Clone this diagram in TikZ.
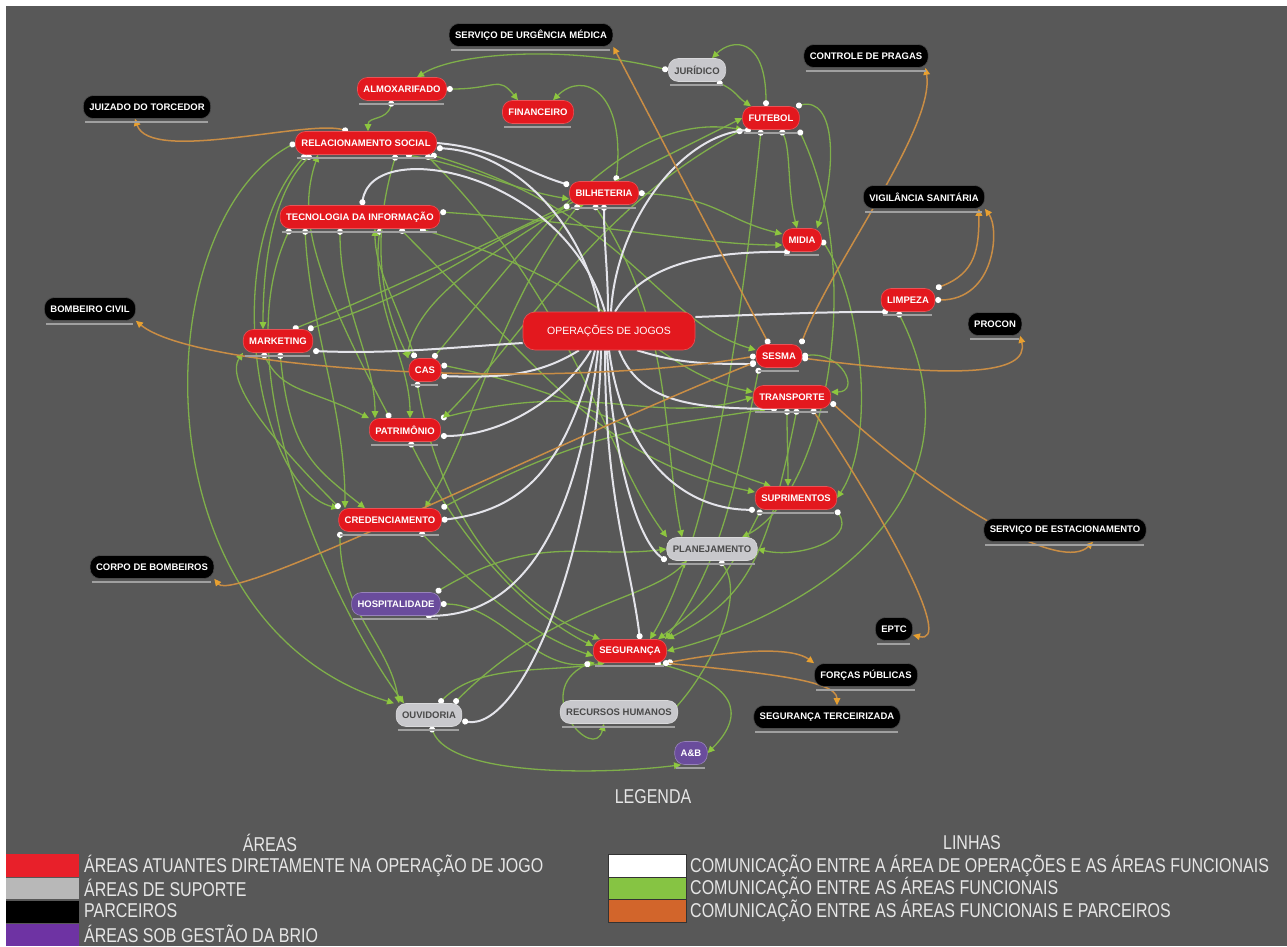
\documentclass[tikz,border=0pt]{standalone}
\usepackage{fontspec}
\setmainfont{Liberation Sans}
\newfontfamily\legfont[FakeStretch=0.8]{Liberation Sans}
\usetikzlibrary{arrows.meta,backgrounds}
\definecolor{bgray}{HTML}{585858}
\definecolor{redarea}{HTML}{E3181E}
\definecolor{suparea}{HTML}{C8C8CC}
\definecolor{suptext}{HTML}{4A4A4A}
\definecolor{brioarea}{HTML}{6A4C9C}
\definecolor{lgreen}{HTML}{7FAF4A}
\definecolor{tipgreen}{HTML}{8DC63F}
\definecolor{lorange}{HTML}{C98D45}
\definecolor{tiporange}{HTML}{E8A030}
\definecolor{lwhite}{HTML}{E4E4EA}
\definecolor{nodeshade}{HTML}{A0A0A0}
\definecolor{legred}{HTML}{E8202A}
\definecolor{leggray}{HTML}{B8B8B8}
\definecolor{legpurple}{HTML}{6E33A3}
\definecolor{leggreen}{HTML}{86C443}
\definecolor{legorange}{HTML}{D2652B}
\definecolor{legtext}{HTML}{E6E6E6}
\tikzset{
  area/.style={rounded corners=10pt,fill=redarea,draw=redarea!75!white,line width=0.6pt,text=white,
               font=\fontsize{9.5}{10}\selectfont\bfseries,minimum height=23pt,inner xsep=6pt,inner ysep=0pt},
  suporte/.style={area,fill=suparea,draw=suparea!70!white,text=suptext},
  parceiro/.style={area,fill=black,draw=black!70!white},
  brio/.style={area,fill=brioarea,draw=brioarea!70!white},
  opsbox/.style={area,rounded corners=12pt,minimum width=172pt,minimum height=38pt,font=\fontsize{10.5}{12}\selectfont},
  gline/.style={draw=lgreen,line width=1.3pt,{Circle[length=6pt,width=6pt,color=white,fill=white]}-{Triangle[length=7pt,width=6.5pt,color=tipgreen,fill=tipgreen]}},
  wline/.style={draw=lwhite,line width=2pt,-{Circle[length=6pt,width=6pt,color=white,fill=white]}},
  oline/.style={draw=lorange,line width=1.5pt,{Circle[length=6pt,width=6pt,color=white,fill=white]}-{Triangle[length=7pt,width=6.5pt,color=tiporange,fill=tiporange]}},
  undershade/.style={draw=nodeshade,line width=1.6pt},
  legtxt/.style={text=legtext,font=\legfont\fontsize{20}{22}\selectfont,inner sep=0pt},
  swatch/.style={draw=black!80,line width=0.6pt}
}

\begin{document}
\begin{tikzpicture}[x=1pt,y=-1pt]
    \useasboundingbox (0,0) rectangle (1287,946);
    % areas atuantes
    \node[area] (almox) at (402,89) {ALMOXARIFADO};
    \node[area] (fin) at (538,112) {FINANCEIRO};
    \node[area] (rel) at (366,143) {RELACIONAMENTO SOCIAL};
    \node[area] (ti) at (360,217) {TECNOLOGIA DA INFORMAÇÃO};
    \node[area] (bil) at (604,193) {BILHETERIA};
    \node[area] (fut) at (771,118) {FUTEBOL};
    \node[area] (mid) at (802,240) {MIDIA};
    \node[area] (limp) at (908,300) {LIMPEZA};
    \node[area] (mkt) at (278,341) {MARKETING};
    \node[area] (cas) at (425,370) {CAS};
    \node[area] (sesma) at (779,356) {SESMA};
    \node[area] (transp) at (792,397) {TRANSPORTE};
    \node[area] (patr) at (405,430) {PATRIMÔNIO};
    \node[area] (supr) at (796,498) {SUPRIMENTOS};
    \node[area] (cred) at (390,520) {CREDENCIAMENTO};
    \node[area] (seg) at (630,651) {SEGURANÇA};
    \node[opsbox] (ops) at (609,331) {OPERAÇÕES DE JOGOS};
    % suporte
    \node[suporte] (jur) at (697,70) {JURÍDICO};
    \node[suporte] (plan) at (712,549) {PLANEJAMENTO};
    \node[suporte] (rh) at (619,712) {RECURSOS HUMANOS};
    \node[suporte] (ouv) at (429,715) {OUVIDORIA};
    % gestao da brio
    \node[brio] (hosp) at (396,604) {HOSPITALIDADE};
    \node[brio] (ab) at (691,753) {A\&B};
    % parceiros
    \node[parceiro] (urg) at (531,35) {SERVIÇO DE URGÊNCIA MÉDICA};
    \node[parceiro] (pragas) at (866,56) {CONTROLE DE PRAGAS};
    \node[parceiro] (juiz) at (147,107) {JUIZADO DO TORCEDOR};
    \node[parceiro] (vig) at (924,197) {VIGILÂNCIA SANITÁRIA};
    \node[parceiro] (bomb) at (90,309) {BOMBEIRO CIVIL};
    \node[parceiro] (procon) at (995,324) {PROCON};
    \node[parceiro] (estac) at (1065,530) {SERVIÇO DE ESTACIONAMENTO};
    \node[parceiro] (corpo) at (152,567) {CORPO DE BOMBEIROS};
    \node[parceiro] (eptc) at (894,629) {EPTC};
    \node[parceiro] (forcas) at (866,675) {FORÇAS PÚBLICAS};
    \node[parceiro] (terc) at (827,717) {SEGURANÇA TERCEIRIZADA};

    \foreach \n in {almox,fin,rel,ti,bil,fut,mid,limp,mkt,cas,sesma,transp,patr,supr,cred,seg,
                    jur,plan,rh,ouv,hosp,ab,urg,pragas,juiz,vig,bomb,procon,estac,corpo,eptc,forcas,terc}
      \draw[undershade] ([xshift=2pt,yshift=-3pt]\n.south west) -- ([xshift=-3pt,yshift=-3pt]\n.south east);

    \begin{pgfonlayer}{background}
    \fill[white] (0,0) rectangle (1287,946);
    \fill[bgray] (6,6) rectangle (1287,946);

    % verde: entre as areas funcionais
    \draw[gline] (almox.east) .. controls +(50,0) and +(-20,-25) .. ([xshift=-20pt]fin.north);
    \draw[gline] (jur.west) .. controls +(-100,-25) and +(40,-25) .. ([xshift=15pt]almox.north);
    \draw[gline] ([xshift=-5pt]fut.north) .. controls +(0,-70) and +(20,-20) .. ([xshift=15pt]jur.north);
    \draw[gline] ([xshift=20pt]jur.south) .. controls +(20,10) and +(-15,-10) .. ([xshift=-20pt]fut.north);
    \draw[gline] ([xshift=12pt]bil.north) .. controls +(10,-90) and +(30,-30) .. ([xshift=15pt]fin.north);
    \draw[gline] ([xshift=-10pt]almox.south) .. controls +(-5,20) and +(0,-15) .. ([xshift=2pt]rel.north);
    \draw[gline] ([xshift=25pt]fut.north) .. controls +(40,-10) and +(20,-60) .. ([xshift=15pt]mid.north);
    \draw[gline] ([xshift=10pt]fut.south) .. controls +(10,20) and +(-10,-40) .. ([xshift=-5pt]mid.north);
    \draw[gline] (bil.east) .. controls +(80,5) and +(-60,-15) .. ([yshift=6pt]mid.west);
    \draw[gline] ([yshift=5pt]ti.east) .. controls +(150,10) and +(-80,0) .. ([yshift=-5pt]mid.west);
    \draw[gline] ([xshift=40pt]rel.south) .. controls +(60,10) and +(-60,-10) .. ([yshift=-6pt]bil.west);
    \draw[gline] ([xshift=15pt]mkt.north) .. controls +(150,-60) and +(-80,40) .. (fut.west);
    \draw[gline] ([xshift=-55pt]rel.south) .. controls +(-40,40) and +(0,-60) .. ([xshift=-15pt]mkt.north);
    \draw[gline] ([xshift=-20pt]ti.south) .. controls +(0,80) and +(0,-60) .. ([xshift=-30pt]patr.north);
    \draw[gline] ([xshift=20pt]ti.south) .. controls +(-10,80) and +(0,-60) .. ([xshift=5pt]patr.north);
    \draw[gline] ([xshift=-15pt]mkt.south) .. controls +(20,40) and +(-60,-30) .. (patr.north west);
    \draw[gline] ([xshift=2pt]mkt.south) .. controls +(10,100) and +(-50,-40) .. ([xshift=-25pt]cred.north);
    \draw[gline] ([xshift=-60pt]rel.south) .. controls +(-90,100) and +(-80,-20) .. (cred.north west);
    \draw[gline] (rel.west) .. controls +(-150,80) and +(-260,-80) .. ([xshift=-35pt]ouv.north);
    \draw[gline] ([xshift=-70pt]ti.south) .. controls +(-70,150) and +(-60,-80) .. ([xshift=-25pt]ouv.north);
    \draw[gline] ([xshift=-55pt]ti.south) .. controls +(5,100) and +(0,-100) .. ([xshift=-45pt]cred.north);
    \draw[gline] ([xshift=-50pt]cred.south) .. controls +(0,80) and +(-10,-60) .. ([xshift=-30pt]ouv.north);
    \draw[gline] ([xshift=5pt]patr.south) .. controls +(40,80) and +(-80,-40) .. ([yshift=5pt]seg.west);
    \draw[gline] ([xshift=-8pt]cas.south) .. controls +(20,120) and +(-100,-40) .. ([xshift=-30pt]seg.north);
    \draw[gline] ([xshift=30pt]cred.south) .. controls +(60,60) and +(-60,-20) .. ([yshift=-5pt]seg.west);
    \draw[gline] (hosp.east) .. controls +(60,0) and +(-60,10) .. ([xshift=-35pt]seg.south);
    \draw[gline] ([xshift=10pt]ouv.north) .. controls +(40,-40) and +(-60,10) .. ([xshift=-25pt]seg.south);
    \draw[gline] ([xshift=2pt]ouv.south) .. controls +(20,50) and +(-80,10) .. ([xshift=-10pt]ab.south);
    \draw[gline] ([xshift=8pt]plan.south) .. controls +(30,40) and +(40,-30) .. ([xshift=38pt]rh.south);
    \draw[gline] ([xshift=-40pt]seg.south) .. controls +(-60,30) and +(-10,40) .. ([xshift=-15pt]rh.south);
    \draw[gline] ([xshift=25pt]seg.south) .. controls +(80,20) and +(40,-40) .. (ab.east);
    \draw[gline] (sesma.east) .. controls +(40,-5) and +(30,0) .. ([yshift=5pt]transp.east);
    \draw[gline] ([xshift=-5pt]transp.south) .. controls +(0,30) and +(0,-30) .. ([xshift=-8pt]supr.north);
    \draw[gline] (mid.east) .. controls +(40,60) and +(40,-60) .. (supr.east);
    \draw[gline] ([xshift=40pt]supr.south) .. controls +(20,30) and +(40,10) .. (plan.east);
    \draw[gline] ([xshift=-10pt]limp.south) .. controls +(100,200) and +(120,-30) .. (seg.east);
    \draw[gline] ([xshift=28pt]fut.south) .. controls +(70,150) and +(80,-40) .. ([xshift=30pt]plan.north);
    \draw[gline] ([xshift=-10pt]fut.south) .. controls +(-20,200) and +(60,-100) .. ([xshift=20pt]seg.north);
    \draw[gline] ([xshift=-10pt]bil.south) .. controls +(80,120) and +(-20,-100) .. ([xshift=-30pt]plan.north);
    \draw[gline] ([xshift=30pt]mkt.north) .. controls +(150,-50) and +(-100,30) .. ([xshift=-20pt]bil.south);
    \draw[gline] ([xshift=8pt]cas.north) .. controls +(100,-120) and +(-120,-20) .. ([xshift=-28pt]fut.south);
    \draw[gline] (patr.north east) .. controls +(150,-40) and +(-100,30) .. (transp.west);
    \draw[gline] (cred.north east) .. controls +(150,-80) and +(-120,20) .. ([xshift=-25pt]transp.south);
    \draw[gline] ([xshift=40pt]ti.south) .. controls +(150,150) and +(-150,-30) .. ([yshift=6pt]supr.west);
    \draw[gline] ([yshift=5pt]cas.east) .. controls +(150,30) and +(-120,-40) .. ([xshift=-25pt]supr.north);
    \draw[gline] ([xshift=60pt]rel.south) .. controls +(150,150) and +(-60,-80) .. ([xshift=-45pt]plan.north);
    \draw[gline] ([xshift=40pt]hosp.north) .. controls +(100,-60) and +(-80,10) .. (plan.west);
    \draw[gline] ([xshift=25pt]ouv.north) .. controls +(100,-100) and +(-40,40) .. ([xshift=-25pt]plan.south);
    \draw[gline] ([xshift=-20pt]sesma.south) .. controls +(-20,100) and +(60,-80) .. ([xshift=35pt]seg.north);
    \draw[gline] ([xshift=5pt]transp.south) .. controls +(-30,150) and +(80,-40) .. (seg.north east);
    \draw[gline] ([xshift=-35pt]supr.south) .. controls +(-40,80) and +(40,-30) .. ([xshift=28pt]seg.north);
    \draw[gline] ([xshift=60pt]ti.south) .. controls +(200,60) and +(-100,-20) .. ([yshift=5pt]transp.west);
    \draw[gline] ([xshift=65pt]rel.south) .. controls +(200,60) and +(-100,-30) .. ([yshift=6pt]sesma.west);
    \draw[gline] ([xshift=-25pt]bil.south) .. controls +(-80,100) and +(50,-80) .. ([xshift=35pt]cred.north);
    \draw[gline] (bil.south west) .. controls +(-80,50) and +(10,-60) .. ([xshift=-18pt]cas.north);
    \draw[gline] (fut.south west) .. controls +(-150,80) and +(80,-80) .. ([xshift=2pt]patr.north east);
    \draw[gline] ([xshift=-10pt]cas.north) .. controls +(-20,-60) and +(0,40) .. ([xshift=15pt]ti.south);
    \draw[gline] ([xshift=-15pt]patr.north) .. controls +(-80,-150) and +(-20,60) .. ([xshift=-48pt]rel.south);
    \draw[gline] ([xshift=-50pt]cred.north) .. controls +(-60,-60) and +(-20,30) .. (mkt.south west);
    \draw[gline] ([xshift=30pt]rel.south) .. controls +(-30,100) and +(-20,-40) .. (cas.north west);

    % branco: operacoes e areas funcionais
    \draw[wline] ([xshift=-10pt]ops.north) .. controls +(-10,-70) and +(90,5) .. ([yshift=-5pt]rel.east);
    \draw[wline] ([xshift=-4pt]ops.north) .. controls +(-40,-140) and +(10,-70) .. ([xshift=2pt]ti.north);
    \draw[wline] (rel.east) .. controls +(60,5) and +(-50,-15) .. ([yshift=8pt]bil.west);
    \draw[wline] ([xshift=-1pt]ops.north) .. controls +(0,-40) and +(0,40) .. (bil.south);
    \draw[wline] ([xshift=2pt]ops.north) .. controls +(5,-90) and +(-70,5) .. ([xshift=-20pt]fut.south);
    \draw[wline] ([xshift=6pt]ops.north) .. controls +(30,-50) and +(-80,0) .. ([xshift=-12pt]mid.south);
    \draw[wline] ([yshift=14pt]ops.east) .. controls +(80,-3) and +(-60,0) .. ([xshift=-20pt]limp.south);
    \draw[wline] ([xshift=28pt]ops.south) .. controls +(40,12) and +(-60,0) .. ([yshift=-8pt]sesma.west);
    \draw[wline] ([xshift=10pt]ops.south) .. controls +(20,50) and +(-90,0) .. ([xshift=-15pt]transp.south);
    \draw[wline] (ops.south) .. controls +(15,110) and +(-70,0) .. (supr.south west);
    \draw[wline] ([xshift=-2pt]ops.south) .. controls +(5,100) and +(-30,-20) .. (plan.south west);
    \draw[wline] ([xshift=-4pt]ops.south) .. controls +(0,150) and +(-10,-80) .. ([xshift=10pt]seg.north);
    \draw[wline] ([xshift=-8pt]ops.south) .. controls +(-5,200) and +(60,10) .. ([yshift=-6pt]ouv.east);
    \draw[wline] ([xshift=-11pt]ops.south) .. controls +(-20,170) and +(100,0) .. ([xshift=30pt]hosp.south);
    \draw[wline] ([xshift=-14pt]ops.south) .. controls +(-30,120) and +(80,-10) .. (cred.east);
    \draw[wline] ([xshift=-18pt]ops.south) .. controls +(-30,50) and +(60,0) .. ([yshift=-6pt]patr.east);
    \draw[wline] ([xshift=-30pt]ops.south) .. controls +(-40,25) and +(60,2) .. ([yshift=-6pt]cas.east);
    \draw[wline] ([yshift=-12pt]ops.west) .. controls +(-80,5) and +(80,3) .. ([yshift=-10pt]mkt.east);

    % laranja: areas funcionais e parceiros
    \draw[oline] ([xshift=-18pt]rel.north) .. controls +(-40,-12) and +(15,45) .. ([xshift=-12pt]juiz.south);
    \draw[oline] ([xshift=-10pt]sesma.north) -- (urg.south east);
    \draw[oline] ([xshift=22pt]sesma.north) .. controls +(30,-80) and +(10,60) .. ([xshift=-3pt]pragas.south east);
    \draw[oline] ([xshift=28pt]limp.north) .. controls +(40,-15) and +(0,40) .. ([xshift=-6pt]vig.south east);
    \draw[oline] (limp.east) .. controls +(60,0) and +(15,20) .. (vig.south east);
    \draw[oline] (sesma.west) .. controls +(-200,35) and +(60,50) .. (bomb.south east);
    \draw[oline] ([yshift=-2pt]sesma.east) .. controls +(150,20) and +(10,40) .. ([xshift=-2pt]procon.south east);
    \draw[oline] ([yshift=-5pt]transp.east) .. controls +(120,110) and +(-30,30) .. ([xshift=28pt]estac.south);
    \draw[oline] ([xshift=20pt]transp.south) .. controls +(80,120) and +(40,10) .. ([yshift=-6pt]eptc.east);
    \draw[oline] (seg.south east) .. controls +(80,-15) and +(-20,-15) .. (forcas.north west);
    \draw[oline] ([xshift=-4pt]seg.south east) .. controls +(100,10) and +(0,-25) .. ([xshift=10pt]terc.north);
    \draw[oline] ([yshift=-6pt]sesma.west) .. controls +(-200,80) and +(20,25) .. (corpo.south east);
    \end{pgfonlayer}

    % legenda
    \node[legtxt] (legenda) at (653,797) {LEGENDA};
    \node[legtxt] (areas) at (270,843) {ÁREAS};
    \node[legtxt] (linhas) at (972,843) {LINHAS};
    \fill[legred] (6,854) rectangle (79,877);
    \fill[leggray] (6,878) rectangle (79,899);
    \fill[black] (6,901) rectangle (79,923);
    \fill[legpurple] (6,924) rectangle (79,946);
    \node[legtxt,anchor=west] (a1) at (84,866) {ÁREAS ATUANTES DIRETAMENTE NA OPERAÇÃO DE JOGO};
    \node[legtxt,anchor=west] (a2) at (84,888) {ÁREAS DE SUPORTE};
    \node[legtxt,anchor=west] (a3) at (84,911) {PARCEIROS};
    \node[legtxt,anchor=west] (a4) at (84,934) {ÁREAS SOB GESTÃO DA BRIO};
    \draw[swatch,fill=white] (608,854) rectangle (686,877);
    \draw[swatch,fill=leggreen] (608,877) rectangle (686,899);
    \draw[swatch,fill=legorange] (608,899) rectangle (686,922);
    \node[legtxt,anchor=west] (b1) at (690,866) {COMUNICAÇÃO ENTRE A ÁREA DE OPERAÇÕES E AS ÁREAS FUNCIONAIS};
    \node[legtxt,anchor=west] (b2) at (690,888) {COMUNICAÇÃO ENTRE AS ÁREAS FUNCIONAIS};
    \node[legtxt,anchor=west] (b3) at (690,911) {COMUNICAÇÃO ENTRE AS ÁREAS FUNCIONAIS E PARCEIROS};
  \end{tikzpicture}
\end{document}
